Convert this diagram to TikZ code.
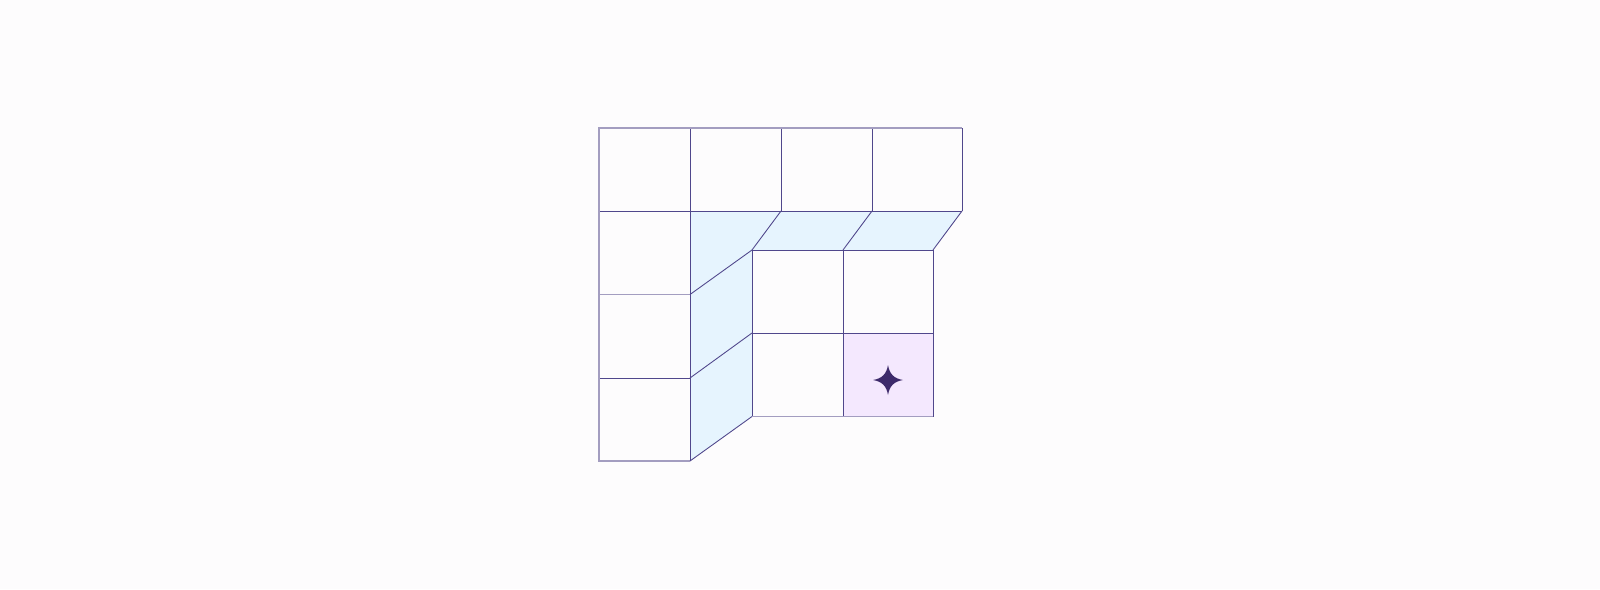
\documentclass[tikz,border=0pt]{standalone}
\usetikzlibrary{calc}
\definecolor{bgc}{HTML}{FDFCFD}
\definecolor{linec}{HTML}{50478C}
\definecolor{lightline}{HTML}{A39DC0}
\definecolor{bluefill}{HTML}{E6F4FE}
\definecolor{purplefill}{HTML}{F4E8FE}
\definecolor{starc}{HTML}{3D2A6B}
\tikzset{
  gridline/.style={draw=linec, line width=0.5pt},
  outerline/.style={draw=lightline, line width=0.65pt},
  wallfill/.style={fill=bluefill},
  goalfill/.style={fill=purplefill},
}
\begin{document}
\begin{tikzpicture}[x=0.02cm,y=-0.02cm]
\fill[bgc] (0,0) rectangle (1600,589);
\useasboundingbox (0,0) rectangle (1600,589);
% wall fills
\fill[wallfill] (690,211) -- (962,211) -- (933,250) -- (752,250) -- (752,416.5) -- (690,461) -- cycle;
\fill[goalfill] (843,333) rectangle (933,416.5);
% top row
\draw[gridline] (690,128) -- (690,461);
\draw[gridline] (781,128) -- (781,211);
\draw[gridline] (872,128) -- (872,211);
\draw[gridline] (962,128) -- (962,211);
\draw[gridline] (599,211) -- (962,211);
% left column rows
\draw[outerline] (599,294.5) -- (690,294.5);
\draw[gridline] (599,378) -- (690,378);
% outer border
\draw[outerline] (962,128) -- (599,128) -- (599,461) -- (690,461);
% slants top band
\draw[gridline] (781,211) -- (752,250);
\draw[gridline] (872,211) -- (843,250);
\draw[gridline] (962,211) -- (933,250);
% slants left band
\draw[gridline] (690,294.5) -- (752,250);
\draw[gridline] (690,378) -- (752,333);
\draw[gridline] (690,461) -- (752,416.5);
% inner grid
\draw[gridline] (752,250) -- (933,250);
\draw[gridline] (752,333) -- (933,333);
\draw[gridline] (752,250) -- (752,416.5);
\draw[gridline] (843,250) -- (843,416.5);
\draw[gridline] (933,250) -- (933,416.5);
\draw[outerline] (752,416.5) -- (933,416.5);
% star
\coordinate (sc) at (888,380);
\fill[starc] ($(sc)+(0,-15)$) .. controls ($(sc)+(1.5,-6)$) and ($(sc)+(6,-1.5)$) .. ($(sc)+(15,0)$)
  .. controls ($(sc)+(6,1.5)$) and ($(sc)+(1.5,6)$) .. ($(sc)+(0,15)$)
  .. controls ($(sc)+(-1.5,6)$) and ($(sc)+(-6,1.5)$) .. ($(sc)+(-15,0)$)
  .. controls ($(sc)+(-6,-1.5)$) and ($(sc)+(-1.5,-6)$) .. cycle;
\end{tikzpicture}
\end{document}
